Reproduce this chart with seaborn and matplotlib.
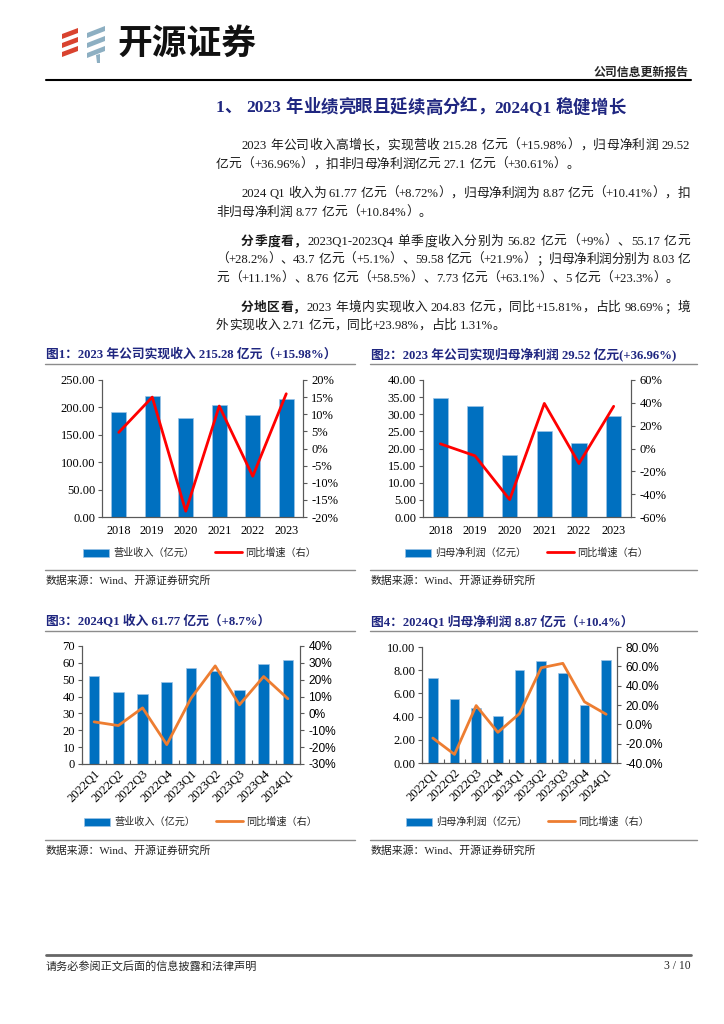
import re

import matplotlib
matplotlib.use("Agg")
import matplotlib.pyplot as plt  # noqa: E402
import matplotlib.ticker as ticker  # noqa: E402
from matplotlib.patches import Polygon  # noqa: E402
import numpy as np  # noqa: E402
import pandas as pd  # noqa: E402
import seaborn as sns  # noqa: E402

W, H = 724, 1024

# ---------------------------------------------------------------------------
# Dados
# ---------------------------------------------------------------------------
years = ["2018", "2019", "2020", "2021", "2022", "2023"]
revenue_annual = [191.5, 220.0, 180.5, 204.0, 186.6, 215.28]
revenue_annual_yoy = [4.7, 15.0, -18.3, 12.4, -8.1, 15.98]
profit_annual = [34.7, 32.3, 18.0, 25.0, 21.6, 29.52]
profit_annual_yoy = [4.1, -6.4, -44.8, 39.5, -13.2, 36.96]

quarters = ["2022Q1", "2022Q2", "2022Q3", "2022Q4", "2023Q1",
            "2023Q2", "2023Q3", "2023Q4", "2024Q1"]
revenue_q = [52.2, 43.0, 41.3, 48.8, 56.82, 55.17, 43.7, 59.58, 61.77]
revenue_q_yoy = [-5.0, -7.2, 3.3, -18.5, 9.0, 28.2, 5.1, 21.9, 8.72]
profit_q = [7.29, 5.53, 4.75, 4.09, 8.03, 8.76, 7.73, 5.0, 8.87]
profit_q_yoy = [-14.2, -31.1, 19.4, -8.3, 11.1, 58.5, 63.1, 23.3, 10.41]

BLUE = "#0070C0"
RED = "#FF0000"
ORANGE = "#ED7D31"
NAVY = "#1F2680"
SPINE = "#595959"
SERIF = ["Liberation Serif", "Noto Sans CJK SC"]
SANS = ["Liberation Sans", "Noto Sans CJK SC"]

sns.set_style("ticks")
plt.rcParams.update({
    "font.family": SERIF,
    "axes.unicode_minus": False,
    "axes.edgecolor": SPINE,
    "axes.linewidth": 0.8,
    "xtick.color": SPINE,
    "ytick.color": SPINE,
    "xtick.labelcolor": "black",
    "ytick.labelcolor": "black",
})

fig = plt.figure(figsize=(W / 100, H / 100), dpi=100)
fig.patch.set_facecolor("white")

# camada em pixels para cabecalho, textos e linhas
page = fig.add_axes([0, 0, 1, 1])
page.set_xlim(0, W)
page.set_ylim(H, 0)
page.axis("off")
renderer = fig.canvas.get_renderer()


def px_rect(x0, y0, x1, y1):
    return [x0 / W, 1 - y1 / H, (x1 - x0) / W, (y1 - y0) / H]


def text_line(x0, y, segments, size=9.2, right=None, color="#1a1a1a"):
    """Escreve uma linha; se right for dado, justifica ate essa borda."""
    toks = []
    for s, bold in segments:
        for m in re.finditer(r"[A-Za-z0-9.+%\-]+| |.", s):
            toks.append((m.group(), bold))
    space = 0.25 * size * 100 / 72
    items = []
    for t, bold in toks:
        if t == " ":
            items.append((None, space))
            continue
        a = page.text(0, y, t, fontsize=size, family=SERIF, color=color,
                      fontweight="bold" if bold else "normal",
                      va="center", ha="left")
        items.append((a, a.get_window_extent(renderer).width))
    total = sum(w for _, w in items)
    gap = 0 if right is None else (right - x0 - total) / (len(items) - 1)
    x = x0
    for a, w in items:
        if a is not None:
            a.set_x(x)
        x += w + gap


# ---------------------------------------------------------------------------
# Cabecalho
# ---------------------------------------------------------------------------
for i in range(3):
    page.add_patch(Polygon([(62, 34 + 9 * i), (78, 28 + 9 * i), (78, 33 + 9 * i),
                            (62, 39 + 9 * i)], closed=True, color="#D9432F", lw=0))
    page.add_patch(Polygon([(87, 33 + 10 * i), (105, 26 + 10 * i), (105, 31 + 10 * i),
                            (87, 38 + 10 * i)], closed=True, color="#8DAFC2", lw=0))
page.add_patch(Polygon([(96, 55), (100, 54), (100, 63), (97, 63)], closed=True,
                       color="#8DAFC2", lw=0))
page.text(117, 43, "开源证券", fontsize=25, fontweight="bold",
          family="Noto Sans CJK SC", va="center", ha="left", color="#111111")
page.text(689, 73, "公司信息更新报告", fontsize=8.6, fontweight="bold",
          family=SERIF, va="center", ha="right")
page.plot([46, 691], [80, 80], color="black", lw=1.5)

# ---------------------------------------------------------------------------
# Titulo e paragrafos
# ---------------------------------------------------------------------------
text_line(216, 108, [("1、 2023 年业绩亮眼且延续高分红，2024Q1 稳健增长", True)],
          size=12.5, color=NAVY)

R = 690
text_line(241, 146, [("2023 年公司收入高增长，实现营收 215.28 亿元（+15.98%），归母净利润 29.52", False)], right=R)
text_line(216, 165, [("亿元（+36.96%），扣非归母净利润亿元 27.1 亿元（+30.61%）。", False)])
text_line(241, 194, [("2024 Q1 收入为 61.77 亿元（+8.72%），归母净利润为 8.87 亿元（+10.41%），扣", False)], right=R)
text_line(216, 213, [("非归母净利润 8.77 亿元（+10.84%）。", False)])
text_line(241, 242, [("分季度看，", True),
                     ("2023Q1-2023Q4 单季度收入分别为 56.82 亿元（+9%）、55.17 亿元", False)], right=R)
text_line(216, 260, [("（+28.2%）、43.7 亿元（+5.1%）、59.58 亿元（+21.9%）；归母净利润分别为 8.03 亿", False)], right=R)
text_line(216, 279, [("元（+11.1%）、8.76 亿元（+58.5%）、7.73 亿元（+63.1%）、5 亿元（+23.3%）。", False)])
text_line(241, 308, [("分地区看，", True),
                     ("2023 年境内实现收入 204.83 亿元，同比+15.81%，占比 98.69%；境", False)], right=R)
text_line(216, 326, [("外实现收入 2.71 亿元，同比+23.98%，占比 1.31%。", False)])


# ---------------------------------------------------------------------------
# Graficos combinados (barras + linha em eixo secundario)
# ---------------------------------------------------------------------------
def combo_chart(rect, cats, bars, yoy, bar_label, line_color, ylim, ystep, yfmt,
                y2lim, y2step, y2fmt, y2family, rotate, legend_xy):
    ax = fig.add_axes(px_rect(*rect))
    df = pd.DataFrame({"cat": cats, "bar": bars, "yoy": yoy})
    sns.barplot(data=df, x="cat", y="bar", color=BLUE, saturation=1, width=0.44,
                edgecolor="#9DC3E6", linewidth=0.5, ax=ax, label=bar_label)
    ax2 = ax.twinx()
    sns.lineplot(data=df, x="cat", y="yoy", color=line_color, linewidth=2,
                 sort=False, ax=ax2, label="同比增速（右）")
    for a in (ax, ax2):
        if a.get_legend() is not None:
            a.get_legend().remove()
        a.set_xlabel("")
        a.set_ylabel("")
        a.spines["top"].set_visible(False)
        a.spines["right"].set_visible(True)

    ax.set_xlim(-0.5, len(cats) - 0.5)
    ax.set_ylim(*ylim)
    ax.set_yticks(np.arange(ylim[0], ylim[1] + ystep / 2, ystep))
    ax.yaxis.set_major_formatter(ticker.FormatStrFormatter(yfmt))
    ax.tick_params(axis="y", direction="out", length=3, width=0.8,
                   labelsize=9, pad=2)
    ax2.set_ylim(*y2lim)
    ax2.set_yticks(np.arange(y2lim[0], y2lim[1] + y2step / 2, y2step))
    ax2.yaxis.set_major_formatter(ticker.FuncFormatter(lambda v, p: y2fmt.format(v)))
    ax2.tick_params(axis="y", direction="out", length=3, width=0.8,
                    labelsize=9 if y2family == "Liberation Serif" else 8.6,
                    pad=3, labelfontfamily=y2family)

    if rotate:
        ax.tick_params(axis="x", length=0, labelsize=9, pad=3)
        ax.set_xticks(np.arange(len(cats) + 1) - 0.5, minor=True)
        ax.tick_params(axis="x", which="minor", direction="in", length=3, width=0.8)
        plt.setp(ax.get_xticklabels(), rotation=45, ha="right",
                 rotation_mode="anchor")
    else:
        ax.tick_params(axis="x", length=0, labelsize=8.8, pad=6)

    h1, l1 = ax.get_legend_handles_labels()
    h2, l2 = ax2.get_legend_handles_labels()
    fig.legend(h1 + h2, l1 + l2, loc="center left",
               bbox_to_anchor=(legend_xy[0] / W, 1 - legend_xy[1] / H),
               ncol=2, frameon=False, borderpad=0, borderaxespad=0,
               prop={"family": "Noto Sans CJK SC", "size": 7.3},
               handlelength=2.6, handleheight=0.8, handletextpad=0.35,
               columnspacing=2.1)
    return ax, ax2


def chart_frame(x0, x1, title, y_title, y_line, y_bottom, y_source):
    page.text(x0 + 1, y_title, title, fontsize=9.2, fontweight="bold",
              color=NAVY, family=SERIF, va="center", ha="left")
    page.plot([x0, x1], [y_line, y_line], color="#8C8C8C", lw=1)
    page.plot([x0, x1], [y_bottom, y_bottom], color="#8C8C8C", lw=1)
    page.text(x0 + 1, y_source, "数据来源：Wind、开源证券研究所", fontsize=7.8,
              family=SERIF, color="#222222", va="center", ha="left")


chart_frame(45, 355, "图1：2023 年公司实现收入 215.28 亿元（+15.98%）", 354, 364, 570, 581)
chart_frame(370, 697, "图2：2023 年公司实现归母净利润 29.52 亿元(+36.96%)", 354, 364, 570, 581)
chart_frame(45, 355, "图3：2024Q1 收入 61.77 亿元（+8.7%）", 622, 631, 840, 851)
chart_frame(370, 697, "图4：2024Q1 归母净利润 8.87 亿元（+10.4%）", 622, 631, 840, 851)

combo_chart((102, 380, 303, 517), years, revenue_annual, revenue_annual_yoy,
            "营业收入（亿元）", RED, (0, 250), 50, "%.2f",
            (-20, 20), 5, "{:.0f}%", "Liberation Serif", False, (83, 553))
combo_chart((423, 380, 631, 517), years, profit_annual, profit_annual_yoy,
            "归母净利润（亿元）", RED, (0, 40), 5, "%.2f",
            (-60, 60), 20, "{:.0f}%", "Liberation Serif", False, (405, 553))
combo_chart((82, 646, 300, 764), quarters, revenue_q, revenue_q_yoy,
            "营业收入（亿元）", ORANGE, (0, 70), 10, "%d",
            (-30, 40), 10, "{:.0f}%", "Liberation Sans", True, (84, 822))
combo_chart((422, 647, 617, 763), quarters, profit_q, profit_q_yoy,
            "归母净利润（亿元）", ORANGE, (0, 10), 2, "%.2f",
            (-40, 80), 20, "{:.1f}%", "Liberation Sans", True, (406, 822))

# ---------------------------------------------------------------------------
# Rodape
# ---------------------------------------------------------------------------
page.plot([46, 691], [955, 955], color="#666666", lw=2)
page.text(46, 966, "请务必参阅正文后面的信息披露和法律声明", fontsize=8,
          family=SERIF, va="center", ha="left")
page.text(691, 966, "3 / 10", fontsize=8.4, family=SERIF, va="center", ha="right")

fig.savefig("out.png", dpi=100, facecolor="white")
